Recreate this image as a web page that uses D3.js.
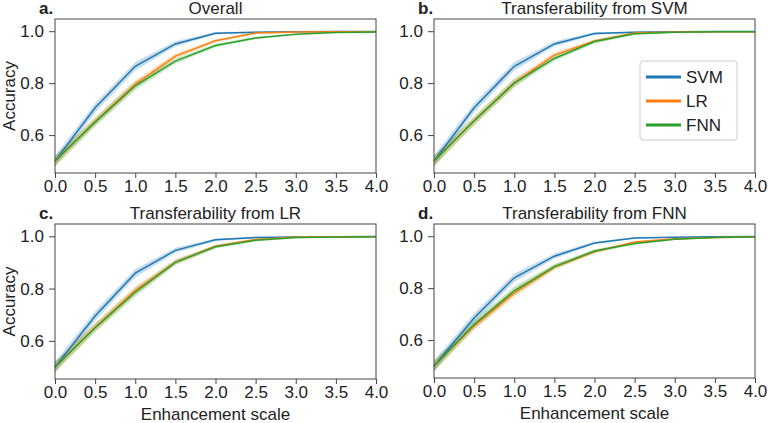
<!DOCTYPE html>
<html lang="en">
<head>
    <meta charset="UTF-8">
    <title>Accuracy vs enhancement scale</title>
    <script src="https://d3js.org/d3.v7.min.js"></script>
    <style>
        body { margin: 0; background: #fff; }
        svg text { font-family: "Liberation Sans", Arial, sans-serif; fill: #222; }
        .axis text { font-size: 17px; }
        .axis path, .axis line { stroke: #444; }
        .frame { fill: none; stroke: #444; stroke-width: 1; }
        .line { fill: none; stroke-width: 1.5px; }
        .band { stroke: none; opacity: 0.25; }
    </style>
</head>
<body>
    <svg width="768" height="423"></svg>

    <script>
        // enhancement scale (x)
        const xValues = [0, 0.5, 1.0, 1.5, 2.0, 2.5, 3.0, 3.5, 4.0];
        const xTicks = [0, 0.5, 1.0, 1.5, 2.0, 2.5, 3.0, 3.5, 4.0];
        const yTicks = [0.6, 0.8, 1.0];
        const models = ['SVM', 'LR', 'FNN'];

        // a. Overall
        const overallSVM = [0.50, 0.705, 0.865, 0.951, 0.992, 0.996, 0.998, 0.999, 0.999];
        const overallLR  = [0.50, 0.652, 0.795, 0.904, 0.963, 0.993, 0.997, 0.998, 0.998];
        const overallFNN = [0.50, 0.650, 0.790, 0.885, 0.945, 0.974, 0.988, 0.995, 0.997];
        // b. Transferability from SVM
        const fromSvmSVM = [0.50, 0.705, 0.865, 0.951, 0.991, 0.996, 0.998, 0.999, 0.999];
        const fromSvmLR  = [0.50, 0.655, 0.801, 0.908, 0.962, 0.993, 0.997, 0.998, 0.998];
        const fromSvmFNN = [0.50, 0.655, 0.800, 0.895, 0.960, 0.990, 0.996, 0.998, 0.998];
        // c. Transferability from LR
        const fromLrSVM = [0.50, 0.695, 0.859, 0.946, 0.987, 0.995, 0.997, 0.998, 0.999];
        const fromLrLR  = [0.50, 0.652, 0.792, 0.901, 0.962, 0.988, 0.997, 0.998, 0.998];
        const fromLrFNN = [0.50, 0.650, 0.786, 0.900, 0.960, 0.985, 0.995, 0.997, 0.998];
        // d. Transferability from FNN
        const fromFnnSVM = [0.50, 0.685, 0.840, 0.923, 0.974, 0.993, 0.996, 0.998, 0.999];
        const fromFnnLR  = [0.50, 0.655, 0.782, 0.881, 0.940, 0.978, 0.990, 0.995, 0.997];
        const fromFnnFNN = [0.50, 0.660, 0.790, 0.883, 0.943, 0.972, 0.988, 0.995, 0.997];

        // half width of the shaded band
        const ciSVM = [0.020, 0.018, 0.016, 0.010, 0.005, 0.003, 0.002, 0.002, 0.002];
        const ciLR  = [0.020, 0.016, 0.016, 0.010, 0.006, 0.004, 0.003, 0.002, 0.002];
        const ciFNN = [0.020, 0.016, 0.016, 0.010, 0.007, 0.005, 0.003, 0.002, 0.002];

        const colors = { SVM: '#1f77b4', LR: '#ff7f0e', FNN: '#2ca02c' };
        const ci = { SVM: ciSVM, LR: ciLR, FNN: ciFNN };

        const panels = [
            { tag: 'a.', title: 'Overall', data: { SVM: overallSVM, LR: overallLR, FNN: overallFNN },
              left: 55, right: 376, top: 19, bottom: 173, ylabel: true, xlabel: false, legend: false },
            { tag: 'b.', title: 'Transferability from SVM', data: { SVM: fromSvmSVM, LR: fromSvmLR, FNN: fromSvmFNN },
              left: 434, right: 755, top: 19, bottom: 173, ylabel: false, xlabel: false, legend: true },
            { tag: 'c.', title: 'Transferability from LR', data: { SVM: fromLrSVM, LR: fromLrLR, FNN: fromLrFNN },
              left: 55, right: 376, top: 224, bottom: 379, ylabel: true, xlabel: true, legend: false },
            { tag: 'd.', title: 'Transferability from FNN', data: { SVM: fromFnnSVM, LR: fromFnnLR, FNN: fromFnnFNN },
              left: 434, right: 755, top: 224, bottom: 378, ylabel: false, xlabel: true, legend: false }
        ];

        const svg = d3.select('svg');

        panels.forEach(p => {
            const x = d3.scaleLinear().domain([0, 4]).range([p.left, p.right]);
            const y = d3.scaleLinear().domain([0.454, 1.047]).range([p.bottom, p.top]);
            const g = svg.append('g');

            const area = d3.area()
                .x((d, i) => x(xValues[i]))
                .y0(d => y(d.v - d.c))
                .y1(d => y(d.v + d.c));
            const line = d3.line()
                .x((d, i) => x(xValues[i]))
                .y(d => y(d.v));

            models.forEach(m => {
                const pts = p.data[m].map((v, i) => ({ v: v, c: ci[m][i] }));
                g.append('path').attr('class', 'band')
                    .attr('d', area(pts)).style('fill', colors[m]);
            });
            models.forEach(m => {
                const pts = p.data[m].map((v, i) => ({ v: v, c: ci[m][i] }));
                g.append('path').attr('class', 'line')
                    .attr('d', line(pts)).style('stroke', colors[m]);
            });

            // axes
            g.append('g').attr('class', 'axis')
                .attr('transform', `translate(0,${p.bottom})`)
                .call(d3.axisBottom(x).tickValues(xTicks).tickFormat(d3.format('.1f'))
                    .tickSize(5).tickPadding(2).tickSizeOuter(0))
                .call(a => a.select('.domain').remove());
            g.append('g').attr('class', 'axis')
                .attr('transform', `translate(${p.left},0)`)
                .call(d3.axisLeft(y).tickValues(yTicks).tickFormat(d3.format('.1f'))
                    .tickSize(6).tickPadding(5).tickSizeOuter(0))
                .call(a => a.select('.domain').remove());

            g.append('rect').attr('class', 'frame')
                .attr('x', p.left).attr('y', p.top)
                .attr('width', p.right - p.left).attr('height', p.bottom - p.top);

            // titles
            g.append('text')
                .attr('x', (p.left + p.right) / 2).attr('y', p.top - 5)
                .attr('text-anchor', 'middle').style('font-size', '17px')
                .text(p.title);
            g.append('text')
                .attr('x', p.left - 16).attr('y', p.top - 5)
                .style('font-size', '17px').style('font-weight', 'bold')
                .text(p.tag);

            if (p.ylabel) {
                g.append('text')
                    .attr('transform', `translate(15,${(p.top + p.bottom) / 2}) rotate(-90)`)
                    .attr('text-anchor', 'middle').style('font-size', '17px')
                    .text('Accuracy');
            }
            if (p.xlabel) {
                g.append('text')
                    .attr('x', (p.left + p.right) / 2).attr('y', p.bottom + 41)
                    .attr('text-anchor', 'middle').style('font-size', '17px')
                    .text('Enhancement scale');
            }

            if (p.legend) {
                const lg = g.append('g').attr('transform', 'translate(640,61)');
                lg.append('rect')
                    .attr('width', 97).attr('height', 79).attr('rx', 3)
                    .style('fill', '#fff').style('stroke', '#ccc');
                models.forEach((m, i) => {
                    lg.append('line')
                        .attr('x1', 6).attr('x2', 41)
                        .attr('y1', 16 + i * 24).attr('y2', 16 + i * 24)
                        .style('stroke', colors[m]).style('stroke-width', 3);
                    lg.append('text')
                        .attr('x', 46).attr('y', 16 + i * 24).attr('dy', '0.35em')
                        .style('font-size', '17px')
                        .text(m);
                });
            }
        });
    </script>
</body>
</html>
